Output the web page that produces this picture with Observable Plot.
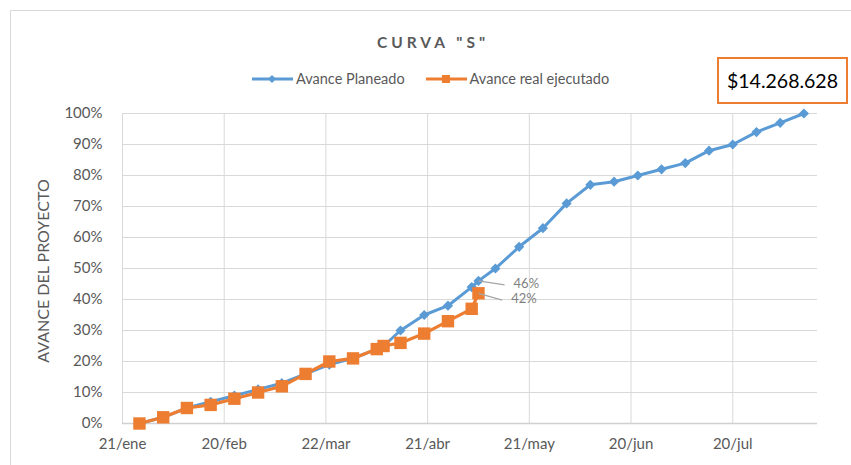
<!DOCTYPE html>
<html>
<head>
<meta charset="utf-8">
<script src="https://cdn.jsdelivr.net/npm/d3@7"></script>
<script src="https://cdn.jsdelivr.net/npm/@observablehq/plot@0.6"></script>
<style>
  html, body { margin: 0; padding: 0; background: #fff; }
  #wrap { position: relative; width: 851px; height: 465px; overflow: hidden; font-family: Lato, "Open Sans", sans-serif; }
  #frame { position: absolute; left: 10px; top: 10px; width: 900px; height: 500px; border-left: 1px solid #d9d9d9; border-top: 1px solid #d9d9d9; }
  #chart { position: absolute; left: 0; top: 0; }
  #title { position: absolute; left: 0; width: 866px; top: 33px; text-align: center; font-weight: bold; font-size: 15.5px; letter-spacing: 4px; color: #595959; }
  #legend { position: absolute; left: 252px; top: 70px; font-size: 14.5px; color: #595959; display: flex; align-items: center; white-space: nowrap; }
  .item { display: flex; align-items: center; margin-right: 21px; }
  .item svg { margin-right: 3px; }
  #box { position: absolute; left: 717px; top: 57px; width: 127px; height: 43px; border: 2px solid #ED7D31; box-sizing: content-box; display: flex; align-items: center; justify-content: center; font-size: 19.5px; color: #000; background: #fff; }
  #ylabel { position: absolute; left: 42px; top: 271px; transform: translate(-50%, -50%) rotate(-90deg); font-size: 16px; color: #595959; white-space: nowrap; }
</style>
</head>
<body>
<div id="wrap">
  <div id="frame"></div>
  <div id="chart"></div>
  <div id="title">CURVA "S"</div>
  <div id="legend">
    <div class="item"><svg width="41" height="10"><line x1="0" y1="5" x2="41" y2="5" stroke="#5B9BD5" stroke-width="3"/><path d="M20,1 L24,5 L20,9 L16,5 Z" fill="#5B9BD5"/></svg>Avance Planeado</div>
    <div class="item"><svg width="41" height="10"><line x1="0" y1="5" x2="41" y2="5" stroke="#ED7D31" stroke-width="3"/><rect x="16" y="1" width="8" height="8" fill="#ED7D31"/></svg>Avance real ejecutado</div>
  </div>
  <div id="box">$14.268.628</div>
  <div id="ylabel">AVANCE DEL PROYECTO</div>
</div>
<script>
// Dates of the weekly cuts
const dates = ["2019-01-26","2019-02-02","2019-02-09","2019-02-16","2019-02-23","2019-03-02","2019-03-09","2019-03-16","2019-03-23","2019-03-30","2019-04-06","2019-04-08","2019-04-13","2019-04-20","2019-04-27","2019-05-04","2019-05-06","2019-05-11","2019-05-18","2019-05-25","2019-06-01","2019-06-08","2019-06-15","2019-06-22","2019-06-29","2019-07-06","2019-07-13","2019-07-20","2019-07-27","2019-08-03","2019-08-10"];
// Avance Planeado (%)
const planned = [0,2,5,7,9,11,13,16,19,21,24,25,30,35,38,44,46,50,57,63,71,77,78,80,82,84,88,90,94,97,100];
// Avance real ejecutado (%)
const actual = [0,2,5,6,8,10,12,16,20,21,24,25,26,29,33,37,42];
// Axis ticks
const tickDates = ["2019-01-21","2019-02-20","2019-03-22","2019-04-21","2019-05-21","2019-06-20","2019-07-20"];
const tickLabels = ["21/ene","20/feb","22/mar","21/abr","21/may","20/jun","20/jul"];
const yTicks = [0,10,20,30,40,50,60,70,80,90,100];
const xDomain = ["2019-01-21","2019-08-14"];

const BLUE = "#5B9BD5", ORANGE = "#ED7D31";
const parse = s => new Date(s + "T00:00:00Z");
const plannedData = planned.map((v, i) => ({date: parse(dates[i]), value: v}));
const actualData = actual.map((v, i) => ({date: parse(dates[i]), value: v}));
const labelMap = new Map(tickDates.map((d, i) => [d, tickLabels[i]]));
const DAY = 864e5;
const callouts = [
  {date: plannedData[plannedData.findIndex(d => d.value === 46)].date, value: 46, dDays: 7.7, dVal: -1.3},
  {date: actualData[actualData.length - 1].date, value: actual[actual.length - 1], dDays: 7.0, dVal: -2.2}
];

const chart = Plot.plot({
  width: 851,
  height: 465,
  marginLeft: 122,
  marginRight: 34,
  marginTop: 113,
  marginBottom: 42,
  style: {fontFamily: "Lato, 'Open Sans', sans-serif", background: "transparent", color: "#595959"},
  x: {type: "utc", domain: xDomain.map(parse), label: null},
  y: {domain: [0, 100], label: null},
  marks: [
    Plot.ruleY(yTicks.filter(d => d > 0), {stroke: "#d9d9d9", strokeWidth: 1}),
    Plot.ruleX(tickDates.map(parse), {stroke: "#d9d9d9", strokeWidth: 1}),
    Plot.ruleY([0], {stroke: "#d0d0d0", strokeWidth: 1.3}),
    Plot.axisY(yTicks, {tickSize: 0, tickPadding: 20, tickFormat: d => d + "%", fontSize: 15, fill: "#595959", label: null}),
    Plot.axisX(tickDates.map(parse), {tickSize: 0, tickPadding: 15, tickFormat: d => labelMap.get(d.toISOString().slice(0, 10)), fontSize: 15, fill: "#595959", label: null}),
    Plot.line(plannedData, {x: "date", y: "value", stroke: BLUE, strokeWidth: 3}),
    Plot.dot(plannedData, {x: "date", y: "value", symbol: "diamond2", fill: BLUE, stroke: null, r: 4.6}),
    Plot.line(actualData, {x: "date", y: "value", stroke: ORANGE, strokeWidth: 3.2}),
    Plot.dot(actualData, {x: "date", y: "value", symbol: "square", fill: ORANGE, stroke: null, r: 7}),
    Plot.link(callouts, {x1: "date", y1: "value", x2: d => new Date(+d.date + d.dDays * DAY), y2: d => d.value + d.dVal, stroke: "#a6a6a6", strokeWidth: 1.2}),
    Plot.text(callouts, {x: d => new Date(+d.date + d.dDays * DAY), y: d => d.value + d.dVal, text: d => d.value + "%", dx: 9, dy: -1, textAnchor: "start", fill: "#7f7f7f", fontSize: 13})
  ]
});
document.getElementById("chart").appendChild(chart);
</script>
</body>
</html>
